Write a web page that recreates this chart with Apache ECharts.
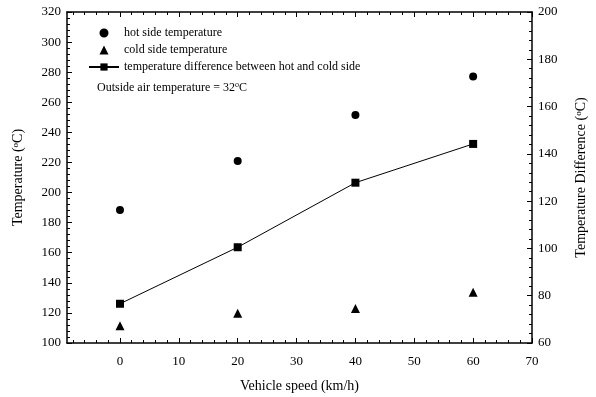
<!DOCTYPE html>
<html>
<head>
<meta charset="utf-8">
<title>Temperature vs vehicle speed</title>
<script src="https://cdn.jsdelivr.net/npm/echarts@6/dist/echarts.min.js"></script>
<style>
html,body{margin:0;padding:0;background:#fff;}
#chart{width:596px;height:397px;}
</style>
</head>
<body>
<div id="chart"></div>
<script>
// data
var speed = [0, 20, 40, 60];
var hotSide = [188.4, 220.9, 251.5, 277.2];
var coldSide = [111.5, 119.7, 123.0, 133.7];
var tempDiff = [76.6, 100.5, 127.8, 144.2];
var xMajor = [0, 10, 20, 30, 40, 50, 60, 70];
var xMinor = [-8, -6, -4, -2, 2, 4, 6, 8, 12, 14, 16, 18, 22, 24, 26, 28, 32, 34, 36, 38,
              42, 44, 46, 48, 52, 54, 56, 58, 62, 64, 66, 68];

var font = 'Liberation Serif';
var black = '#000';

// legend icons padded to the 30x9 legend box so they keep their shape
var circleIcon = 'path://M0 0M30 9M15 0A4.5 4.5 0 1 1 14.99 0Z';
var triangleIcon = 'path://M0 0M30 9M10.5 9L15 0L19.5 9Z';

function pairs(ys) {
    return speed.map(function (x, i) { return [x, ys[i]]; });
}

function xAxisDef(pos, ticks, len, showLabel, showLine) {
    return {
        type: 'value', position: pos, min: -9, max: 70,
        splitLine: {show: false},
        axisLine: {show: showLine, onZero: false, lineStyle: {color: black, width: 1.5}},
        axisTick: {show: true, inside: true, length: len, customValues: ticks, lineStyle: {color: black, width: 1}},
        axisLabel: {show: showLabel, customValues: ticks, color: black, fontFamily: font, fontSize: 13, margin: 12},
        name: showLabel ? 'Vehicle speed (km/h)' : '',
        nameLocation: 'middle', nameGap: 36,
        nameTextStyle: {color: black, fontFamily: font, fontSize: 14}
    };
}

function yAxisDef(pos, min, max, title, gap) {
    return {
        type: 'value', position: pos, min: min, max: max, interval: 20,
        splitLine: {show: false},
        axisLine: {show: true, onZero: false, lineStyle: {color: black, width: 1.5}},
        axisTick: {inside: true, length: 5, lineStyle: {color: black}},
        minorTick: {show: true, splitNumber: 5, length: 3, lineStyle: {color: black}},
        axisLabel: {color: black, fontFamily: font, fontSize: 13, margin: 6},
        name: title,
        nameLocation: 'middle', nameGap: gap, nameRotate: 90,
        nameTextStyle: {
            color: black, fontFamily: font, fontSize: 14,
            rich: {sup: {fontSize: 9, fontFamily: font, color: black, verticalAlign: 'top', lineHeight: 10, padding: [0, 0, 6, 0]}}
        }
    };
}

var option = {
    animation: false,
    backgroundColor: '#fff',
    grid: {left: 67, right: 64, top: 12, bottom: 54, containLabel: false, outerBoundsMode: 'none'},
    legend: {
        orient: 'vertical', left: 88, top: 27, padding: 0,
        itemWidth: 30, itemHeight: 9, itemGap: 5,
        textStyle: {color: black, fontFamily: font, fontSize: 12},
        data: [
            {name: 'hot side temperature', icon: circleIcon},
            {name: 'cold side temperature', icon: triangleIcon},
            {name: 'temperature difference between hot and cold side'}
        ]
    },
    xAxis: [
        xAxisDef('bottom', xMajor, 5, true, true),
        xAxisDef('bottom', xMinor, 3, false, false),
        xAxisDef('top', xMajor, 5, false, true),
        xAxisDef('top', xMinor, 3, false, false)
    ],
    yAxis: [
        yAxisDef('left', 100, 320, 'Temperature ({sup|o}C)', 42),
        yAxisDef('right', 60, 200, 'Temperature Difference ({sup|o}C)', 42)
    ],
    graphic: [{
        type: 'text', left: 97, top: 81,
        style: {
            text: 'Outside air temperature = 32{sup|o}C',
            fill: black, font: '12px "Liberation Serif"',
            rich: {sup: {fontSize: 8, fontFamily: font, fill: black, verticalAlign: 'top', padding: [0, 0, 5, 0]}}
        }
    }],
    series: [
        {
            name: 'hot side temperature', type: 'scatter', xAxisIndex: 0, yAxisIndex: 0,
            symbol: 'circle', symbolSize: 8,
            itemStyle: {color: black, opacity: 1},
            data: pairs(hotSide)
        },
        {
            name: 'cold side temperature', type: 'scatter', xAxisIndex: 0, yAxisIndex: 0,
            symbol: 'triangle', symbolSize: 9,
            itemStyle: {color: black, opacity: 1},
            data: pairs(coldSide)
        },
        {
            name: 'temperature difference between hot and cold side', type: 'line',
            xAxisIndex: 0, yAxisIndex: 1,
            symbol: 'rect', symbolSize: 8, showAllSymbol: true,
            lineStyle: {color: black, width: 1},
            itemStyle: {color: black},
            data: pairs(tempDiff)
        }
    ]
};

var myChart = echarts.init(document.getElementById('chart'), null, {renderer: 'canvas'});
myChart.setOption(option);
</script>
</body>
</html>
